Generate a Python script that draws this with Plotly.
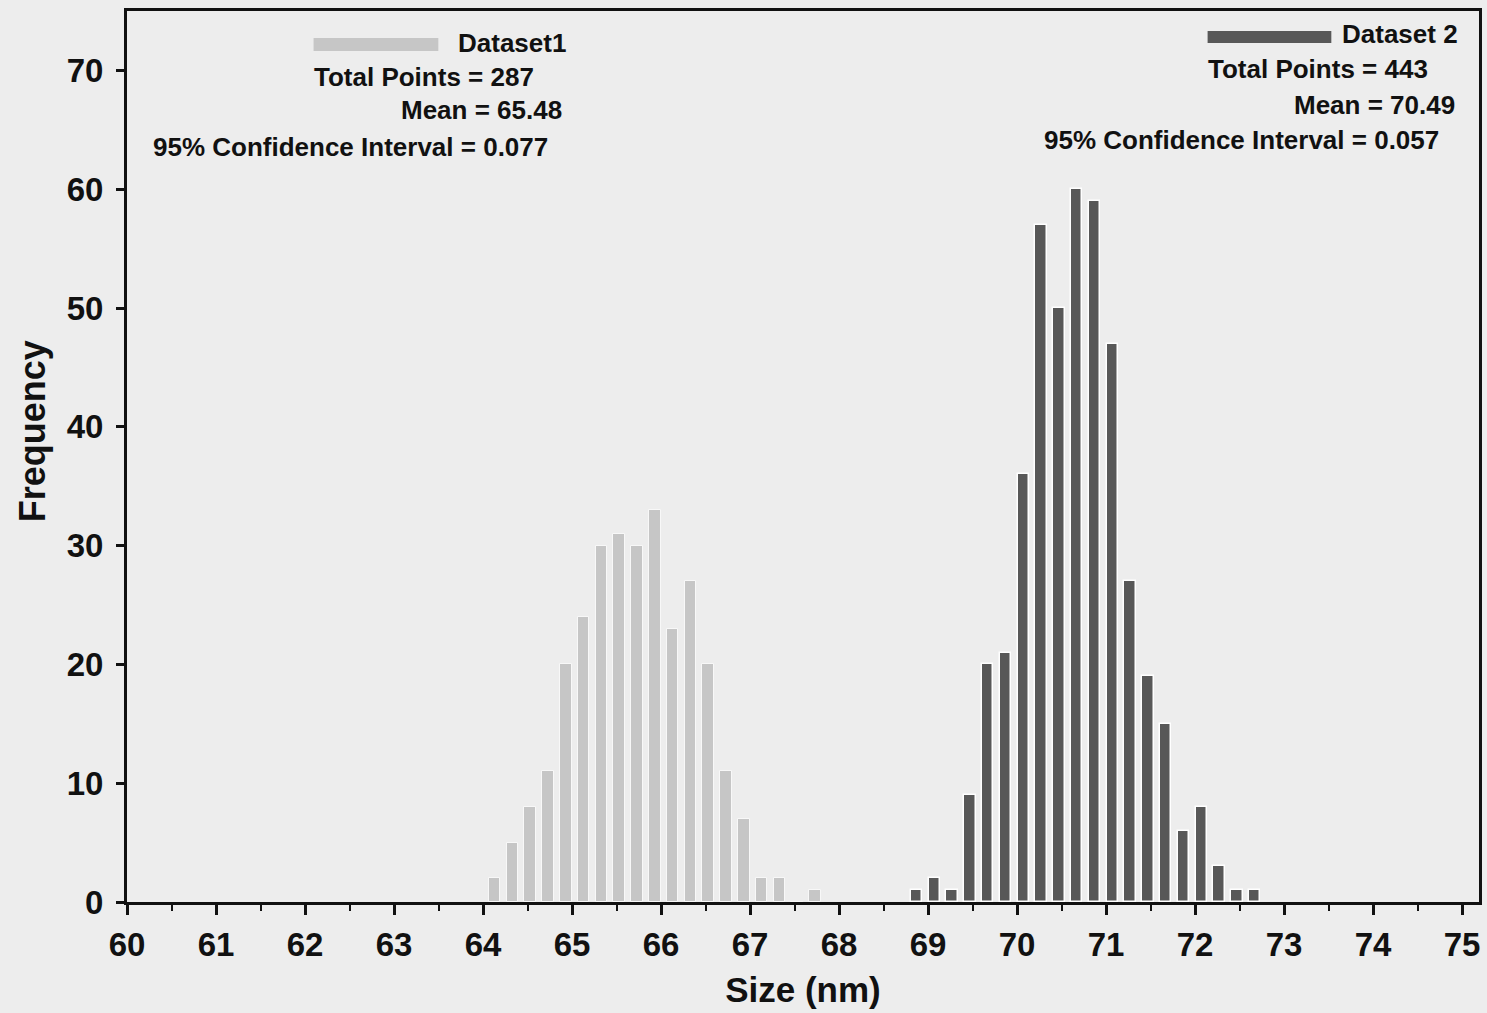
import plotly.graph_objects as go

# ---- data ----
size1 = [64.13, 64.33, 64.53, 64.73, 64.93, 65.13, 65.33, 65.53, 65.73, 65.93,
         66.13, 66.33, 66.53, 66.73, 66.93, 67.13, 67.33, 67.53, 67.73]
freq1 = [2, 5, 8, 11, 20, 24, 30, 31, 30, 33, 23, 27, 20, 11, 7, 2, 2, 0, 1]

size2 = [68.87, 69.07, 69.27, 69.47, 69.67, 69.87, 70.07, 70.27, 70.47, 70.67,
         70.87, 71.07, 71.27, 71.47, 71.67, 71.87, 72.07, 72.27, 72.47, 72.67]
freq2 = [1, 2, 1, 9, 20, 21, 36, 57, 50, 60, 59, 47, 27, 19, 15, 6, 8, 3, 1, 1]

name1 = "Dataset1"
name2 = "Dataset 2"
stats1 = ["Total Points = 287", "Mean = 65.48", "95% Confidence Interval = 0.077"]
stats2 = ["Total Points = 443", "Mean = 70.49", "95% Confidence Interval = 0.057"]

x_ticks = list(range(60, 76))
y_ticks = list(range(0, 71, 10))

# ---- styling ----
W, H = 1487, 1013
L, R, T, B = 127, 1482, 11, 902
BG = "#ededed"
C1 = "#c6c6c6"
C2 = "#585858"
FONT = "Liberation Sans, Arial, sans-serif"


def px(x):
    return (x - L) / (R - L)


def py(y):
    return (B - y) / (B - T)


fig = go.Figure()
fig.add_trace(go.Bar(x=size1, y=freq1, width=0.13, name=name1,
                     marker=dict(color=C1, line=dict(color="#f8f8f8", width=1))))
fig.add_trace(go.Bar(x=size2, y=freq2, width=0.13, name=name2,
                     marker=dict(color=C2, line=dict(color="#ffffff", width=1.5))))

annotations = []
shapes = []

def txt(text, x, y, anchor="center", size=26, angle=0):
    annotations.append(dict(text=text, x=px(x), y=py(y), xref="paper", yref="paper",
                            xanchor=anchor, yanchor="middle", showarrow=False, textangle=angle,
                            font=dict(family=FONT, size=size, color="#111", weight="bold")))

# block 1
shapes.append(dict(type="rect", xref="paper", yref="paper",
                   x0=px(314), x1=px(439), y0=py(51), y1=py(38),
                   fillcolor=C1, line=dict(width=0)))
txt(name1, 457, 43, "left")
txt(stats1[0], 425, 77)
txt(stats1[1], 482, 110)
txt(stats1[2], 351, 147)

# block 2
shapes.append(dict(type="rect", xref="paper", yref="paper",
                   x0=px(1210), x1=px(1334), y0=py(43), y1=py(31),
                   fillcolor=C2, line=dict(width=0)))
txt(name2, 1343, 34, "left")
txt(stats2[0], 1321, 69)
txt(stats2[1], 1377, 105)
txt(stats2[2], 1244, 140)

# y-axis title (placed like the reference, above the plot centre)
txt("Frequency", 33, 431, "center", size=36, angle=-90)

axis_font = dict(family=FONT, size=33, color="#111", weight="bold")

fig.update_layout(
    width=W, height=H,
    margin=dict(l=L, r=W - R, t=T, b=H - B, pad=0),
    paper_bgcolor=BG, plot_bgcolor=BG,
    barmode="overlay", bargap=0,
    showlegend=False,
    annotations=annotations, shapes=shapes,
    xaxis=dict(range=[60, 75.19], tickvals=x_ticks, ticktext=[str(v) for v in x_ticks],
               showgrid=False, zeroline=False,
               showline=True, linecolor="#111", linewidth=3, mirror=True,
               ticks="outside", ticklen=10, tickwidth=3, tickcolor="#111",
               minor=dict(dtick=0.5, tick0=60, ticks="outside", ticklen=6, tickwidth=2,
                          tickcolor="#111", showgrid=False),
               tickfont=axis_font, ticklabelstandoff=1,
               title=dict(text="Size (nm)", font=dict(family=FONT, size=35, color="#111", weight="bold"),
                          standoff=16)),
    yaxis=dict(range=[0, 75], tickvals=y_ticks, ticktext=[str(v) for v in y_ticks],
               showgrid=False, zeroline=False,
               showline=True, linecolor="#111", linewidth=3, mirror=True,
               ticks="outside", ticklen=8, tickwidth=3, tickcolor="#111",
               tickfont=axis_font, ticklabelstandoff=6),
)

fig.write_html("out.html")
